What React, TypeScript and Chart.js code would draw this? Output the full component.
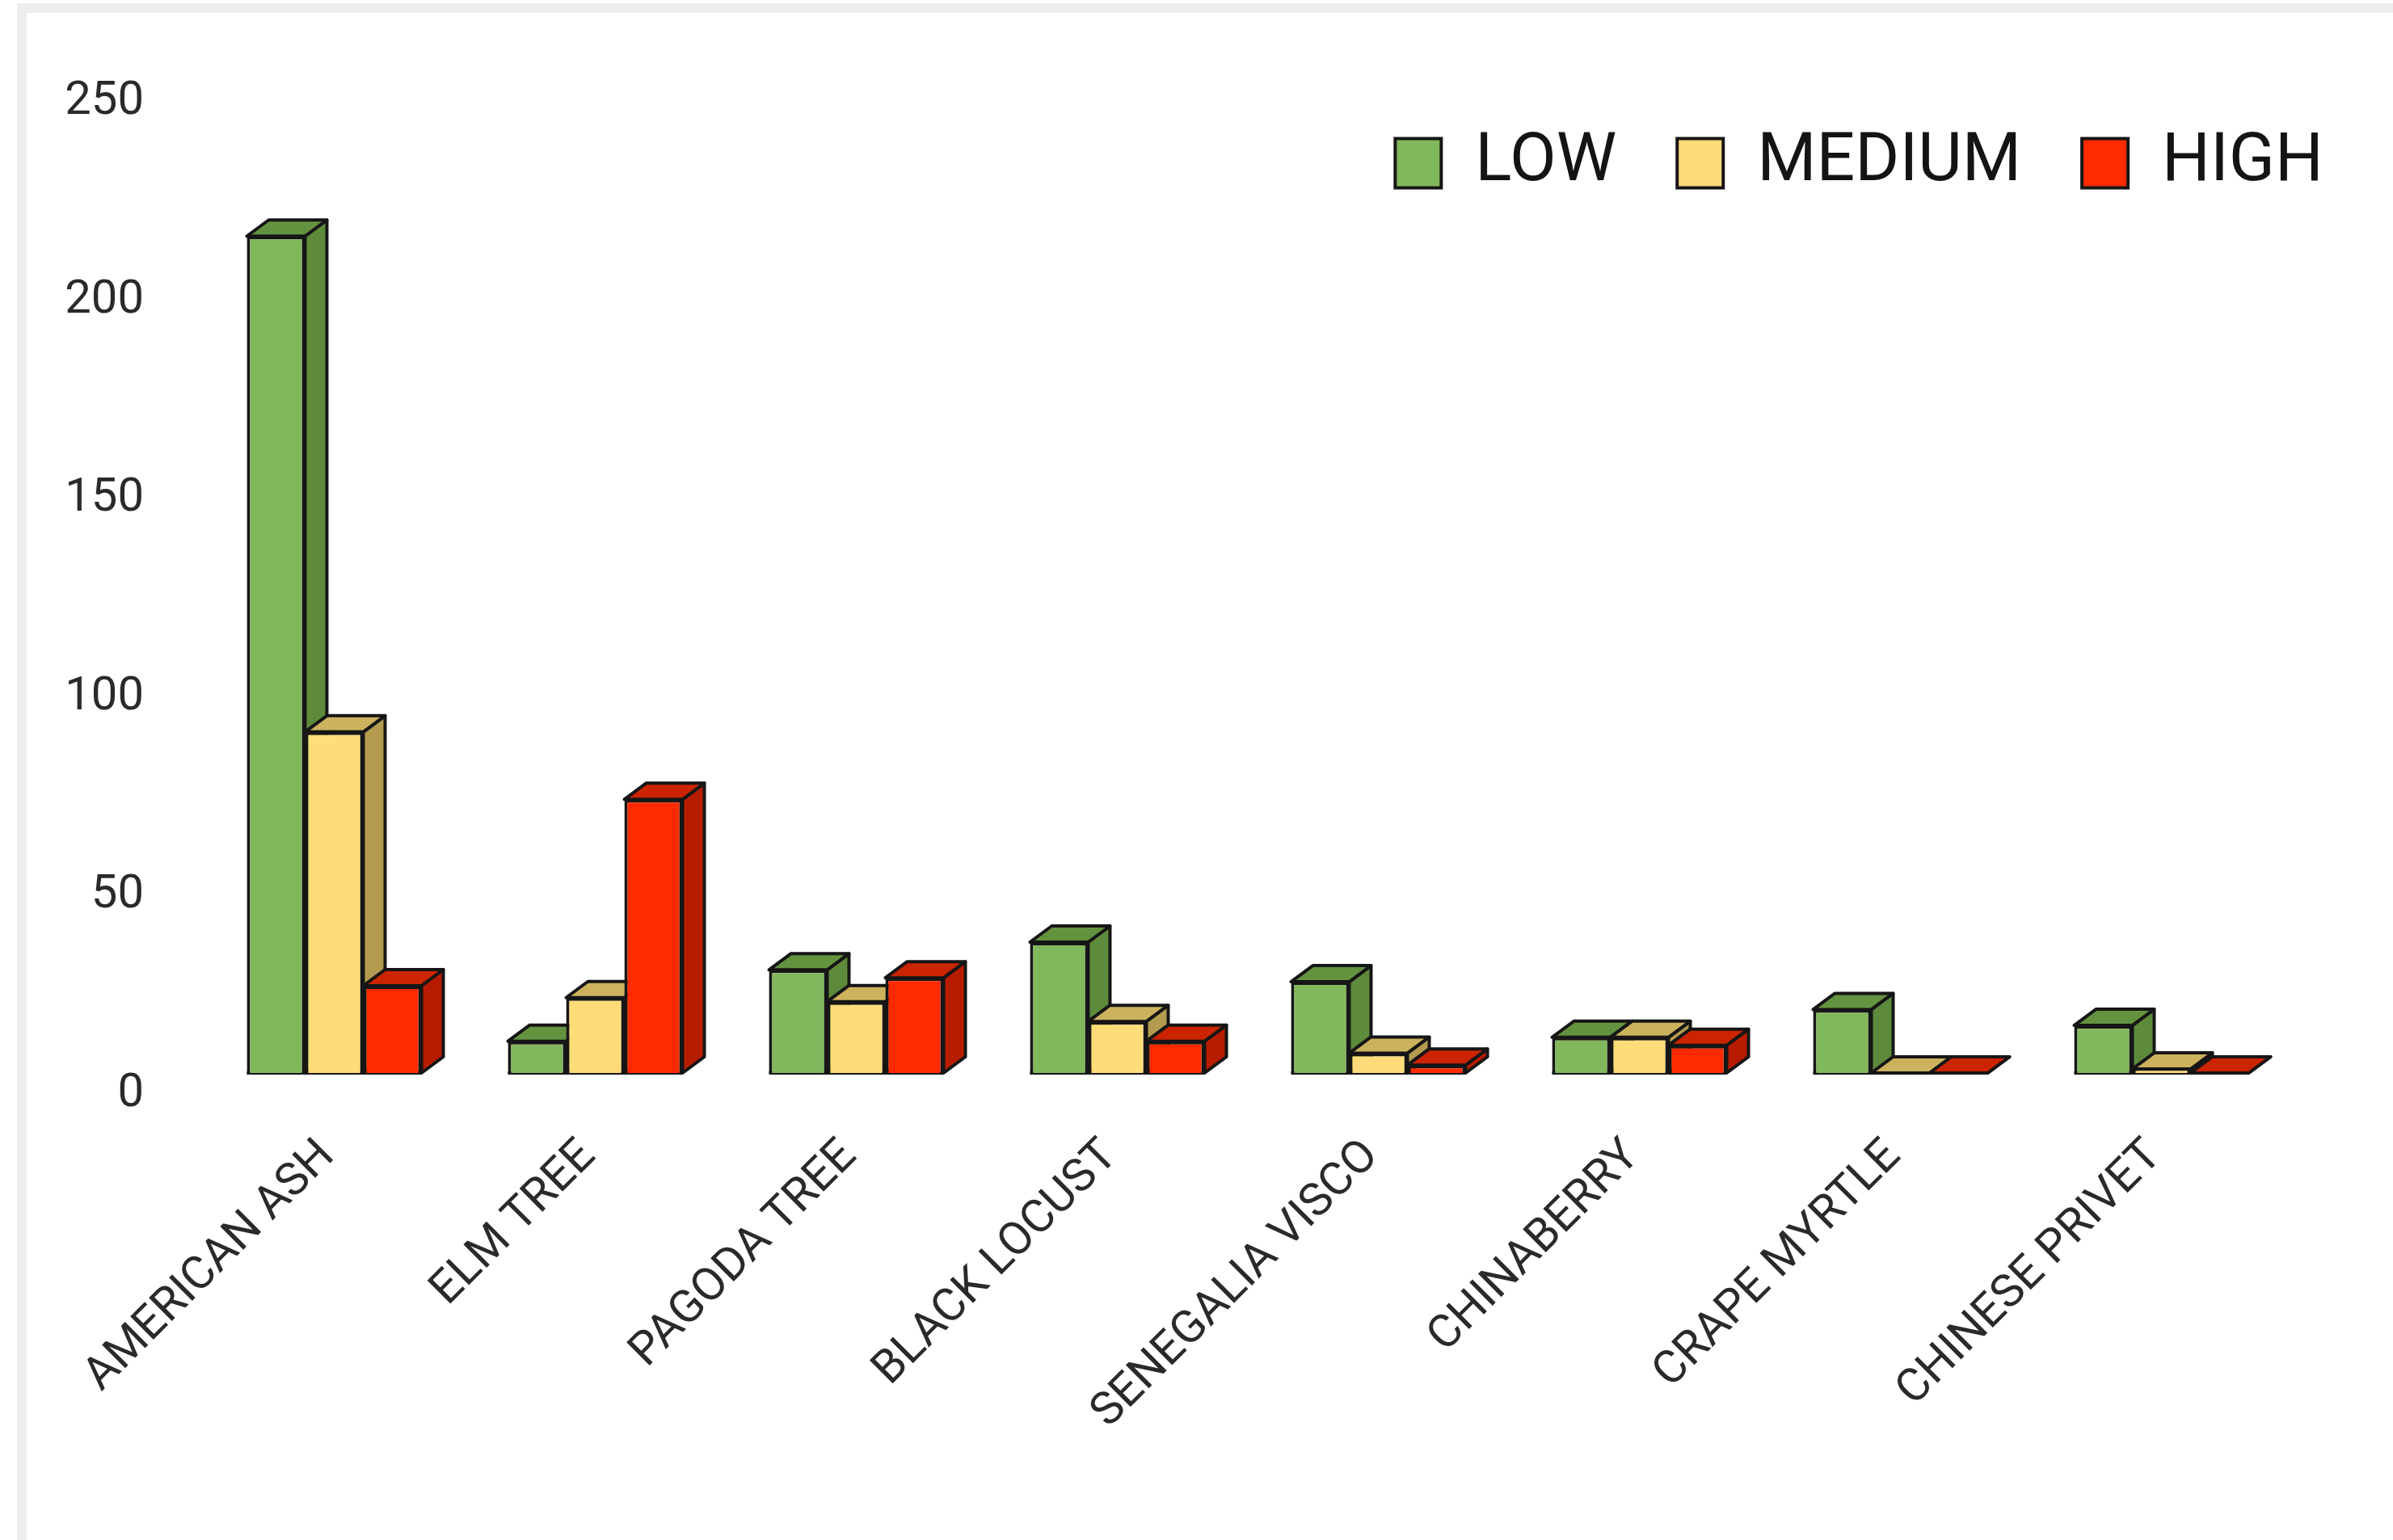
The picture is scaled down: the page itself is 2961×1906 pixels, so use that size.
import React, { useEffect, useRef } from "react";
import { Chart, registerables } from "chart.js";

Chart.register(...registerables);

const species = [
  "AMERICAN ASH",
  "ELM TREE",
  "PAGODA TREE",
  "BLACK LOCUST",
  "SENEGALIA VISCO",
  "CHINABERRY",
  "CRAPE MYRTLE",
  "CHINESE PRIVET",
];
const lowValues = [211, 8, 26, 33, 23, 9, 16, 12];
const mediumValues = [86, 19, 18, 13, 5, 9, 0, 1];
const highValues = [22, 69, 24, 8, 2, 7, 0, 0];

const FONT = "Roboto, sans-serif";
const EDGE = "#161616";
const DEPTH_X = 27;
const DEPTH_Y = 20;

const faceColours = [
  { side: "#5E8A3C", top: "#64933F" },
  { side: "#B39B50", top: "#CDB25E" },
  { side: "#B81C00", top: "#CC2400" },
];

// Extrudes each bar backwards so the columns read as solid blocks. The faces go
// in series order, underneath every front face.
const extrudedBars = {
  id: "extrudedBars",
  beforeDatasetsDraw(chart: any) {
    const { ctx } = chart;
    ctx.save();
    ctx.lineWidth = 4;
    ctx.strokeStyle = EDGE;
    ctx.lineJoin = "round";
    species.forEach((_, column) => {
      faceColours.forEach((colours, series) => {
        const bar = chart.getDatasetMeta(series).data[column];
        const { x, y, base, width } = bar.getProps(["x", "y", "base", "width"], true);
        const l = x - width / 2;
        const r = x + width / 2;
        ctx.fillStyle = colours.side;
        ctx.beginPath();
        ctx.moveTo(r, base);
        ctx.lineTo(r + DEPTH_X, base - DEPTH_Y);
        ctx.lineTo(r + DEPTH_X, y - DEPTH_Y);
        ctx.lineTo(r, y);
        ctx.closePath();
        ctx.fill();
        ctx.stroke();
        ctx.fillStyle = colours.top;
        ctx.beginPath();
        ctx.moveTo(l, y);
        ctx.lineTo(l + DEPTH_X, y - DEPTH_Y);
        ctx.lineTo(r + DEPTH_X, y - DEPTH_Y);
        ctx.lineTo(r, y);
        ctx.closePath();
        ctx.fill();
        ctx.stroke();
        // Ground edge of the block.
        ctx.beginPath();
        ctx.moveTo(l, base);
        ctx.lineTo(r, base);
        ctx.stroke();
      });
    });
    ctx.restore();
  },
};

// Lays the legend out as a single row in the upper-right of the plot.
const legendPlacement = {
  id: "legendPlacement",
  beforeLayout(chart: any) {
    chart.legend.isHorizontal = () => true;
  },
  afterLayout(chart: any) {
    const legend = chart.legend;
    legend.top = 85;
    legend.right = 2950;
  },
};

export default function App() {
  const canvasRef = useRef<HTMLCanvasElement>(null);

  useEffect(() => {
    document.body.style.margin = "0";
    document.body.style.background = "#ffffff";
    const chart = new Chart(canvasRef.current!, {
      type: "bar",
      data: {
        labels: species,
        datasets: [
          { label: "LOW", data: lowValues, backgroundColor: "#82B85C" },
          { label: "MEDIUM", data: mediumValues, backgroundColor: "#FFDC78" },
          { label: "HIGH", data: highValues, backgroundColor: "#FF2A00" },
        ],
      },
      options: {
        responsive: false,
        animation: false,
        layout: { padding: { top: 95, right: 125, left: 0, bottom: 0 } },
        datasets: {
          bar: {
            categoryPercentage: 0.669,
            barPercentage: 1,
            borderColor: EDGE,
            borderWidth: 4,
          },
        },
        scales: {
          x: {
            grid: { display: false },
            border: { display: false },
            afterFit(scale: any) {
              scale.height = 578;
            },
            ticks: {
              autoSkip: false,
              minRotation: 45,
              maxRotation: 45,
              padding: 62,
              labelOffset: -8,
              color: "#2a2a2a",
              font: { family: FONT, size: 57 },
            },
          },
          y: {
            min: 0,
            max: 250,
            grid: { display: false },
            border: { display: false },
            afterFit(scale: any) {
              scale.width = 252;
            },
            ticks: {
              stepSize: 50,
              padding: 66,
              labelOffset: 26,
              color: "#2a2a2a",
              font: { family: FONT, size: 58 },
            },
          },
        },
        plugins: {
          tooltip: { enabled: false },
          legend: {
            position: "chartArea",
            align: "end",
            labels: {
              boxWidth: 57,
              boxHeight: 61,
              padding: 75,
              color: "#141414",
              font: { family: FONT, size: 84 },
            },
          },
        },
      },
      plugins: [extrudedBars, legendPlacement],
    } as any);
    return () => chart.destroy();
  }, []);

  return (
    <div style={{ position: "relative", width: 2961, height: 1906, overflow: "hidden" }}>
      <canvas
        ref={canvasRef}
        width={2961}
        height={1906}
        style={{ position: "absolute", left: 0, top: 0, display: "block" }}
      />
      <div
        style={{
          position: "absolute",
          left: 21,
          top: 4,
          right: 0,
          bottom: 0,
          borderLeft: "12px solid #eeeeee",
          borderTop: "12px solid #eeeeee",
          pointerEvents: "none",
        }}
      />
    </div>
  );
}
